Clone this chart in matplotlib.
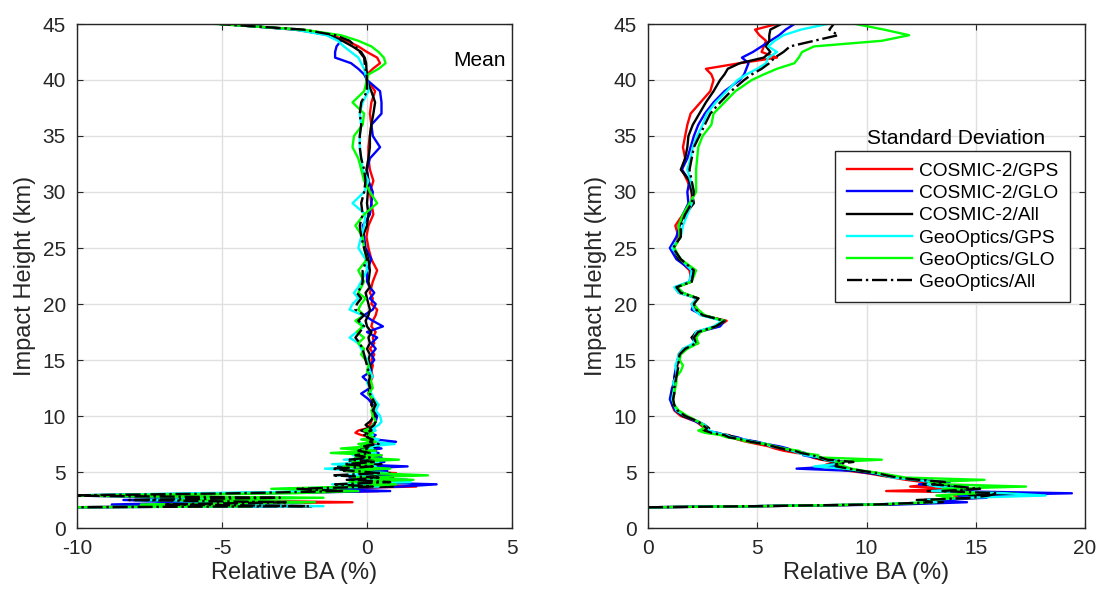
import matplotlib
matplotlib.use('Agg')
import matplotlib.pyplot as plt

plt.rcParams['font.family'] = ['Liberation Sans', 'DejaVu Sans']
plt.rcParams['axes.unicode_minus'] = False

# impact heights (km), shared by every profile
height = [1.85, 1.95, 2.1, 2.3, 2.5, 2.7, 2.9, 3.1, 3.3, 3.5,
          3.7, 3.9, 4.1, 4.3, 4.5, 4.7, 4.9, 5.1, 5.3, 5.5,
          5.7, 5.9, 6.1, 6.3, 6.5, 6.7, 6.9, 7.1, 7.3, 7.5,
          7.7, 7.9, 8.1, 8.3, 8.5, 8.7, 8.9, 9.2,
          9.5, 10, 10.5, 11, 11.5, 12, 12.5, 13, 13.5, 14, 14.5, 15, 15.5,
          16, 16.5, 17, 17.5, 18, 18.5, 19, 19.5, 20, 20.5, 21, 21.5, 22,
          23, 24, 25, 26, 27, 28, 29, 30, 31, 32, 33, 34, 35, 36, 37, 38, 39, 40,
          40.5, 41, 41.5, 42, 42.5, 43, 43.5, 44, 44.5, 45]

# mean relative bending angle (%)
mean_c2_gps = [-10.5, -4.5, -7.0, -0.5, -6.0, -3.0, -9.5, -4.0, 0.4, -2.0,
               1.7, -0.6, 1.0, -0.4, 0.7, -0.2, 1.0, -0.6, 0.6, -0.7,
               0.4, -0.4, 0.6, -0.3, 0.5, -0.3, 0.3, 0.0, 0.3, 0.0,
               0.4, 0.1, 0.2, -0.2, -0.4, -0.3, 0.0, 0.1,
               0.15, 0.2, 0.25, 0.15, 0.15, 0.1, 0.15, 0.1, 0.2, 0.15, 0.2, 0.15, 0.25,
               0.1, 0.25, 0.2, 0.3, 0.15, 0.2, 0.3, 0.35, 0.15, 0.2, 0.1, 0.15, 0.2,
               0.35, 0.15, 0.05, -0.02, 0.05, 0.22, 0.15, 0.1, 0.22, 0.1, 0.05, 0.05, 0.1, 0.15, 0.1, 0.15, 0.28, 0.0,
               0.0, 0.2, 0.45, 0.35, 0.0, -0.3, -0.7, -1.2, -2.5, -5.0]
mean_c2_glo = [-10.5, -3.0, -8.8, -5.5, -8.4, -4.0, -10.5, -3.5, 0.8, -1.8,
               1.2, 2.4, -0.5, 1.4, -0.6, 0.9, -0.3, 0.7, -0.4, 1.4,
               -0.6, 0.6, -0.4, 0.5, -0.2, 0.4, -0.1, 0.5, 0.0, 0.6,
               1.0, 0.3, 0.1, 0.3, 0.0, 0.1, 0.25, 0.2,
               0.3, 0.35, 0.25, 0.2, 0.05, -0.2, 0.1, 0.05, -0.15, 0.15, 0.1, 0.25, 0.15,
               0.3, 0.15, 0.35, 0.0, 0.55, 0.2, -0.1, 0.2, 0.3, 0.1, 0.25, 0.1, 0.0,
               0.0, 0.15, -0.05, -0.1, -0.15, 0.1, 0.15, 0.2, 0.05, 0.0, 0.1, 0.45, 0.2, 0.15, 0.5, 0.5, 0.45, 0.0,
               -0.1, -0.3, -0.55, -1.1, -1.1, -1.05, -0.9, -1.3, -2.4, -5.0]
mean_c2_all = [-10.5, -1.9, -6.5, -2.4, -7.8, -3.5, -10.5, -5.0, -0.6, -2.6,
               0.9, -1.0, 1.3, -0.7, 0.9, -0.4, 0.8, -0.8, 0.4, -1.0,
               0.5, -0.6, 0.5, -0.4, 0.3, -0.5, 0.3, -0.2, 0.4, -0.1,
               0.3, 0.0, 0.25, -0.1, 0.05, -0.2, 0.1, -0.05,
               0.1, 0.25, 0.28, 0.15, 0.2, 0.05, 0.1, 0.05, 0.15, 0.1, 0.12, 0.05, 0.1,
               0.0, 0.1, 0.05, 0.15, 0.0, -0.05, 0.05, 0.1, 0.05, 0.0, -0.05, 0.1, 0.05,
               0.1, 0.05, -0.08, -0.15, 0.0, 0.05, 0.0, 0.03, 0.05, -0.02, 0.05, 0.1, 0.1, 0.15, 0.22, 0.28, 0.15, -0.02,
               0.0, -0.02, -0.03, -0.08, -0.2, -0.5, -0.85, -1.3, -2.4, -5.0]
mean_go_gps = [-10.5, -1.5, -7.5, -2.2, -8.0, -2.5, -10.5, -6.0, -1.0, -3.0,
               0.4, -1.2, 1.5, -0.4, 0.5, -1.0, 0.7, -0.3, -1.45, 0.3,
               -1.2, 0.4, -0.8, 0.2, -0.5, 0.3, -0.3, 0.2, 0.1, 0.95,
               0.2, 0.4, 0.1, 0.2, 0.05, 0.3, 0.2, 0.4,
               0.5, 0.45, 0.3, 0.4, 0.25, 0.15, 0.1, 0.0, 0.2, 0.1, 0.05, 0.0, -0.1,
               -0.2, -0.3, -0.6, -0.35, -0.1, -0.3, -0.15, -0.6, -0.5, -0.3, -0.45, -0.3, -0.2,
               0.0, -0.05, -0.3, -0.2, -0.1, -0.05, -0.5, -0.1, 0.05, -0.15, -0.2, -0.25, -0.25, -0.2, -0.25, -0.15, 0.05, 0.0,
               -0.05, -0.1, -0.2, -0.3, -0.55, -0.8, -1.0, -1.4, -2.5, -5.0]
mean_go_glo = [-10.5, -4.0, -7.8, -1.8, -6.5, -1.5, -10.5, -2.5, -0.3, -3.3,
               -0.5, 1.0, -0.6, 1.6, -0.5, 2.1, 0.2, -0.7, 0.8, -0.8,
               0.2, -0.5, 1.1, -0.4, 0.5, -1.25, 0.3, -0.9, 0.1, -0.3,
               0.3, -0.2, 0.2, 0.0, 0.2, -0.1, 0.1, 0.2,
               0.3, 0.2, 0.15, 0.3, 0.2, 0.05, 0.2, 0.15, 0.1, 0.0, 0.05, -0.05, -0.2,
               -0.1, -0.3, -0.1, -0.35, -0.15, -0.4, -0.1, -0.3, -0.2, -0.05, -0.3, -0.2, -0.1,
               -0.3, 0.0, -0.1, -0.15, -0.4, -0.1, 0.35, 0.1, -0.1, -0.2, -0.3, -0.5, -0.45, -0.15, -0.1, -0.5, -0.1, 0.0,
               0.05, 0.4, 0.64, 0.58, 0.4, 0.15, -0.3, -0.9, -2.2, -5.2]
mean_go_all = [-10.5, -2.0, -7.0, -2.8, -8.2, -3.0, -10.5, -4.5, -0.8, -2.4,
               0.2, -1.1, 0.8, -0.6, 0.4, -1.2, 0.5, -0.5, -1.2, 0.2,
               -0.8, 0.3, -0.6, 0.1, -0.4, 0.1, -0.3, 0.1, -0.1, 0.4,
               0.1, 0.2, 0.0, 0.1, -0.05, 0.15, 0.1, 0.25,
               0.3, 0.3, 0.2, 0.3, 0.2, 0.1, 0.1, 0.05, 0.1, 0.05, 0.0, -0.05, -0.1,
               -0.15, -0.25, -0.4, -0.25, -0.1, -0.3, -0.1, -0.4, -0.35, -0.2, -0.35, -0.2, -0.15,
               -0.15, 0.0, -0.1, -0.2, -0.25, -0.15, -0.2, -0.1, -0.05, -0.1, -0.2, -0.25, -0.25, -0.2, -0.25, -0.2, 0.0, 0.0,
               -0.02, -0.05, -0.08, -0.1, -0.25, -0.4, -0.6, -1.1, -2.2, -5.1]

# standard deviation of relative bending angle (%)
std_c2_gps = [0.0, 5.1, 10.5, 13.7, 13.6, 14.8, 14.0, 17.5, 10.9, 14.2,
              12.0, 13.0, 12.6, 11.8, 11.2, 10.6, 10.0, 9.2, 8.5, 8.0,
              8.2, 8.6, 7.9, 7.5, 7.6, 6.8, 6.2, 5.8, 5.5, 5.0,
              4.5, 4.1, 3.9, 3.7, 2.9, 2.4, 2.6, 2.4,
              2.2, 1.5, 1.2, 1.1, 1.15, 1.2, 1.2, 1.15, 1.25, 1.3, 1.35, 1.4, 1.4,
              1.6, 2.3, 2.0, 2.3, 3.2, 3.6, 2.5, 2.2, 2.0, 2.3, 1.4, 1.25, 2.0,
              1.9, 1.4, 1.2, 1.4, 1.25, 1.6, 2.0, 2.0, 1.8, 1.55, 1.7, 1.6, 1.7, 1.8, 1.95, 2.4, 2.85, 3.0,
              2.9, 2.65, 4.2, 5.9, 5.2, 5.3, 5.4, 5.1, 4.9, 5.9]
std_c2_glo = [0.0, 5.0, 11.5, 14.6, 12.9, 15.5, 14.2, 19.4, 13.4, 15.0,
              14.0, 12.4, 13.8, 12.3, 11.6, 10.9, 10.1, 9.4, 6.8, 8.6,
              8.5, 9.0, 8.3, 7.6, 7.1, 7.2, 6.6, 6.4, 6.0, 5.4,
              5.0, 4.4, 4.1, 3.5, 3.2, 2.6, 2.7, 2.5,
              2.2, 1.6, 1.25, 1.1, 1.0, 1.05, 1.1, 1.2, 1.2, 1.25, 1.3, 1.35, 1.45,
              1.7, 2.2, 2.0, 2.3, 3.3, 3.5, 2.5, 2.0, 2.1, 2.2, 1.6, 1.3, 1.9,
              2.0, 1.3, 1.0, 1.3, 1.45, 1.6, 1.85, 1.8, 1.9, 1.55, 1.8, 1.95, 2.1, 2.3, 2.6, 3.0, 3.5, 4.2,
              4.4, 4.5, 4.6, 4.3, 4.8, 5.2, 5.6, 6.0, 6.3, 6.7]
std_c2_all = [0.0, 5.0, 10.8, 13.5, 12.3, 15.2, 14.7, 16.8, 12.8, 14.8,
              13.6, 12.6, 13.4, 12.1, 11.4, 10.7, 10.3, 9.5, 8.8, 8.9,
              8.3, 8.9, 8.0, 7.7, 7.4, 7.0, 6.5, 6.1, 5.7, 5.3,
              4.9, 4.3, 4.0, 3.6, 3.0, 2.5, 2.8, 2.6,
              2.3, 1.6, 1.3, 1.15, 1.1, 1.1, 1.15, 1.2, 1.25, 1.3, 1.3, 1.4, 1.45,
              1.65, 2.2, 2.0, 2.2, 3.1, 3.5, 2.5, 2.1, 2.05, 2.3, 1.5, 1.25, 2.0,
              2.1, 1.4, 1.15, 1.5, 1.4, 1.7, 2.1, 2.0, 1.9, 1.5, 1.7, 1.8, 1.85, 2.05, 2.35, 2.65, 3.0, 3.3,
              3.5, 3.65, 4.2, 5.3, 5.6, 5.4, 5.55, 5.55, 5.6, 6.1]
std_go_gps = [0.0, 4.8, 10.2, 13.2, 12.8, 14.6, 18.2, 16.4, 13.0, 14.4,
              13.2, 12.8, 13.0, 12.3, 11.2, 10.8, 10.4, 9.8, 9.0, 7.6,
              8.6, 8.7, 8.1, 7.9, 7.2, 6.9, 6.6, 6.2, 5.6, 5.4,
              4.8, 4.4, 3.8, 3.6, 3.1, 2.8, 2.7, 2.6,
              2.3, 1.7, 1.3, 1.2, 1.1, 1.15, 1.2, 1.15, 1.3, 1.3, 1.25, 1.35, 1.4,
              1.6, 2.1, 2.1, 2.2, 3.0, 3.4, 2.4, 2.1, 2.0, 2.25, 1.4, 1.2, 1.9,
              2.0, 1.5, 1.1, 1.5, 1.6, 1.8, 2.0, 2.1, 1.95, 1.8, 1.95, 2.05, 2.25, 2.5, 2.7, 3.1, 3.6, 4.1,
              4.5, 5.0, 5.4, 5.5, 5.9, 5.5, 5.8, 6.2, 7.0, 8.2]
std_go_glo = [0.0, 5.0, 10.6, 12.8, 13.0, 14.0, 13.2, 15.0, 14.2, 13.5,
              17.3, 13.6, 12.9, 15.4, 11.8, 11.2, 10.6, 9.9, 9.3, 9.0,
              8.7, 8.6, 10.7, 7.8, 7.8, 7.1, 6.9, 6.2, 5.8, 5.4,
              4.6, 4.2, 3.6, 3.3, 2.6, 2.3, 2.6, 2.5,
              2.3, 1.8, 1.4, 1.2, 1.15, 1.2, 1.25, 1.3, 1.3, 1.5, 1.6, 1.45, 1.5,
              1.8, 2.3, 2.2, 2.4, 3.1, 3.5, 2.6, 2.3, 2.1, 2.3, 1.6, 1.35, 2.0,
              2.2, 1.5, 1.2, 1.45, 1.4, 1.6, 1.9, 2.2, 2.2, 2.2, 2.25, 2.3, 2.5, 2.9, 3.0, 3.5, 4.0, 4.75,
              5.3, 5.9, 6.7, 6.9, 7.05, 7.6, 10.7, 11.95, 10.8, 9.5]
std_go_all = [0.0, 4.9, 10.4, 13.0, 12.6, 14.8, 15.6, 16.0, 13.4, 15.2,
              14.2, 13.0, 13.6, 12.4, 11.4, 10.9, 10.5, 9.8, 9.2, 8.6,
              8.6, 9.4, 8.2, 7.9, 7.5, 7.0, 6.7, 6.1, 5.7, 5.3,
              4.7, 4.3, 3.7, 3.5, 2.9, 2.6, 2.7, 2.5,
              2.3, 1.7, 1.35, 1.2, 1.15, 1.2, 1.2, 1.25, 1.3, 1.35, 1.4, 1.4, 1.45,
              1.7, 2.2, 2.1, 2.3, 3.1, 3.5, 2.5, 2.2, 2.1, 2.3, 1.5, 1.3, 2.0,
              2.1, 1.5, 1.15, 1.5, 1.5, 1.7, 2.0, 2.1, 2.0, 1.9, 2.0, 2.1, 2.35, 2.6, 2.85, 3.3, 3.8, 4.4,
              4.75, 5.2, 5.55, 5.8, 6.2, 6.5, 7.6, 8.7, 8.3, 8.5]

labels = ['COSMIC-2/GPS', 'COSMIC-2/GLO', 'COSMIC-2/All',
          'GeoOptics/GPS', 'GeoOptics/GLO', 'GeoOptics/All']
colors = ['#ff0000', '#0000ff', '#000000', '#00ffff', '#00ff00', '#000000']
styles = ['-', '-', '-', '-', '-', '-.']

mean_series = [mean_c2_gps, mean_c2_glo, mean_c2_all, mean_go_gps, mean_go_glo, mean_go_all]
std_series = [std_c2_gps, std_c2_glo, std_c2_all, std_go_gps, std_go_glo, std_go_all]

dark = '#262626'

fig = plt.figure(figsize=(10.96, 5.90), dpi=100)
ax1 = fig.add_axes([77 / 1096, 62 / 590, 435 / 1096, 504 / 590])
ax2 = fig.add_axes([648 / 1096, 62 / 590, 437 / 1096, 504 / 590])


def style_axes(ax, xlim, xticks):
    ax.set_xlim(xlim)
    ax.set_ylim(0, 45)
    ax.set_xticks(xticks)
    ax.set_yticks(range(0, 46, 5))
    ax.grid(True, color='#e0e0e0', linewidth=1.0)
    ax.set_axisbelow(True)
    ax.tick_params(direction='in', length=4, width=0.8, colors=dark,
                   labelsize=15, top=True, right=True)
    ax.tick_params(axis='x', pad=8)
    ax.tick_params(axis='y', pad=8)
    for sp in ax.spines.values():
        sp.set_color(dark)
        sp.set_linewidth(1.0)
    ax.set_xlabel('Relative BA (%)', fontsize=17, color=dark, labelpad=3)
    ax.set_ylabel('Impact Height (km)', fontsize=17, color=dark, labelpad=5)


lines = []
for vals, c, ls in zip(mean_series, colors, styles):
    ax1.plot(vals, height, color=c, linestyle=ls, linewidth=1.7)
for vals, c, ls, lab in zip(std_series, colors, styles, labels):
    ln, = ax2.plot(vals, height, color=c, linestyle=ls, linewidth=1.7, label=lab)
    lines.append(ln)

style_axes(ax1, (-10, 5), [-10, -5, 0, 5])
style_axes(ax2, (0, 20), [0, 5, 10, 15, 20])

ax1.text(0.986, 0.928, 'Mean', transform=ax1.transAxes, ha='right', va='center',
         fontsize=15, color='black')

leg = ax2.legend(handles=lines, loc='upper left', bbox_to_anchor=(835 / 1096, 439 / 590),
                 bbox_transform=fig.transFigure, borderaxespad=0, fontsize=13.8,
                 handlelength=3.4, handletextpad=0.4, labelspacing=0.25, borderpad=0.6,
                 frameon=True, fancybox=False, framealpha=1)
leg.get_frame().set_edgecolor(dark)
leg.get_frame().set_linewidth(1.0)

fig.text(956 / 1096, 1 - 139 / 590, 'Standard Deviation', ha='center', va='center',
         fontsize=15, color='black')

fig.savefig('out.png', dpi=100)
